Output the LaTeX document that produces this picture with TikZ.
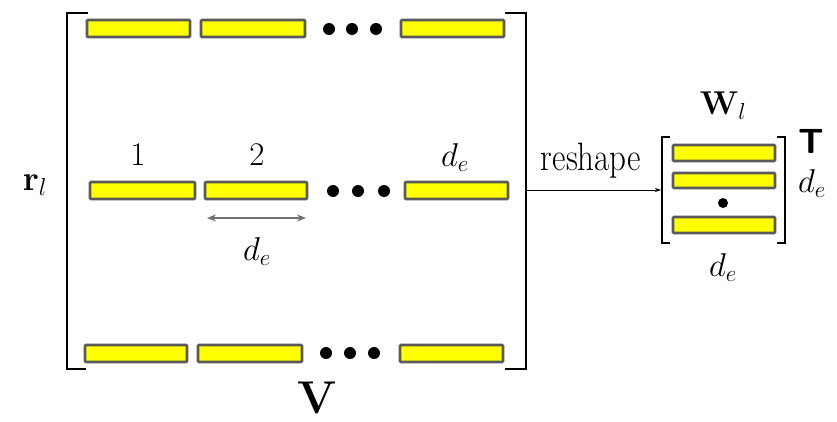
\RequirePackage{fix-cm}
\documentclass[tikz,border=0pt]{standalone}
\usetikzlibrary{arrows.meta}
\definecolor{baryel}{HTML}{FFFF00}
\definecolor{baredge}{HTML}{5A5A5A}
\definecolor{arrgray}{HTML}{707070}
\tikzset{
  bar/.style={draw=baredge, fill=baryel, line width=2.6pt, rounded corners=1pt},
  brk/.style={draw=black, line width=2.8pt},
  sbrk/.style={draw=black, line width=2.6pt},
  lbl/.style={inner sep=0pt, font=\fontsize{33}{40}\selectfont},
}
\begin{document}
\begin{tikzpicture}[x=1pt,y=-1pt]
\useasboundingbox (0,0) rectangle (837,422);
% top row
\draw[bar] (87,20) rectangle (190,37);
\draw[bar] (201,20) rectangle (305,37);
\foreach \x in {329,352,376} \fill (\x,29) circle (6);
\draw[bar] (401,20) rectangle (504,37);
% middle row
\draw[bar] (90,182) rectangle (195,199);
\draw[bar] (205,182) rectangle (307,199);
\foreach \x in {333,358,384} \fill (\x,191) circle (6);
\draw[bar] (405,182) rectangle (508,199);
% bottom row
\draw[bar] (85,345) rectangle (187,362);
\draw[bar] (198,345) rectangle (302,362);
\foreach \x in {326,350,374} \fill (\x,353) circle (6);
\draw[bar] (400,345) rectangle (503,362);
% big brackets
\draw[brk] (88,13) -- (67,13) -- (67,369) -- (86,369);
\draw[brk] (505,13) -- (526,13) -- (526,369) -- (505,369);
\coordinate (bigR) at (526,190);
% labels
\node[lbl] (one) at (138,155) {$1$};
\node[lbl] (two) at (257,155) {$2$};
\node[lbl] (dtop) at (455,158) {$d_e$};
\node[lbl, font=\fontsize{35}{40}\selectfont] (rl) at (35,185) {$\mathbf{r}_l$};
\coordinate (da) at (207,218);
\coordinate (db) at (306,218);
\draw[arrgray, line width=1.4pt, {Stealth[length=9pt,width=7pt,inset=3pt]}-{Stealth[length=9pt,width=7pt,inset=3pt]}] (da) -- (db);
\node[lbl] (dmid) at (257,252) {$d_e$};
\node[inner sep=0pt, font=\fontsize{46}{52}\selectfont] (V) at (317,398) {$\mathbf{V}$};
% small matrix
\draw[bar] (673,145) rectangle (775,161);
\draw[bar] (673,173) rectangle (775,188);
\fill (723,203) circle (5);
\draw[bar] (673,217) rectangle (775,233);
\draw[sbrk] (670,137) -- (662,137) -- (662,243) -- (670,243);
\draw[sbrk] (777,137) -- (785,137) -- (785,243) -- (777,243);
\coordinate (smallL) at (661,190);
\node[lbl] (Wl) at (723,106) {$\mathbf{W}_l$};
\node[inner sep=0pt, font=\fontsize{35}{40}\selectfont\sffamily\bfseries] (T) at (811,141) {T};
\node[lbl] (dright) at (812,184) {$d_e$};
\node[lbl] (dbot) at (723,268) {$d_e$};
% reshape arrow
\draw[line width=0.9pt, -{Stealth[length=6pt,width=4pt]}] (bigR) -- (smallL);
\node[lbl] (resh) at (591,161) {\scalebox{1}[1.2]{reshape}};
\end{tikzpicture}
\end{document}
